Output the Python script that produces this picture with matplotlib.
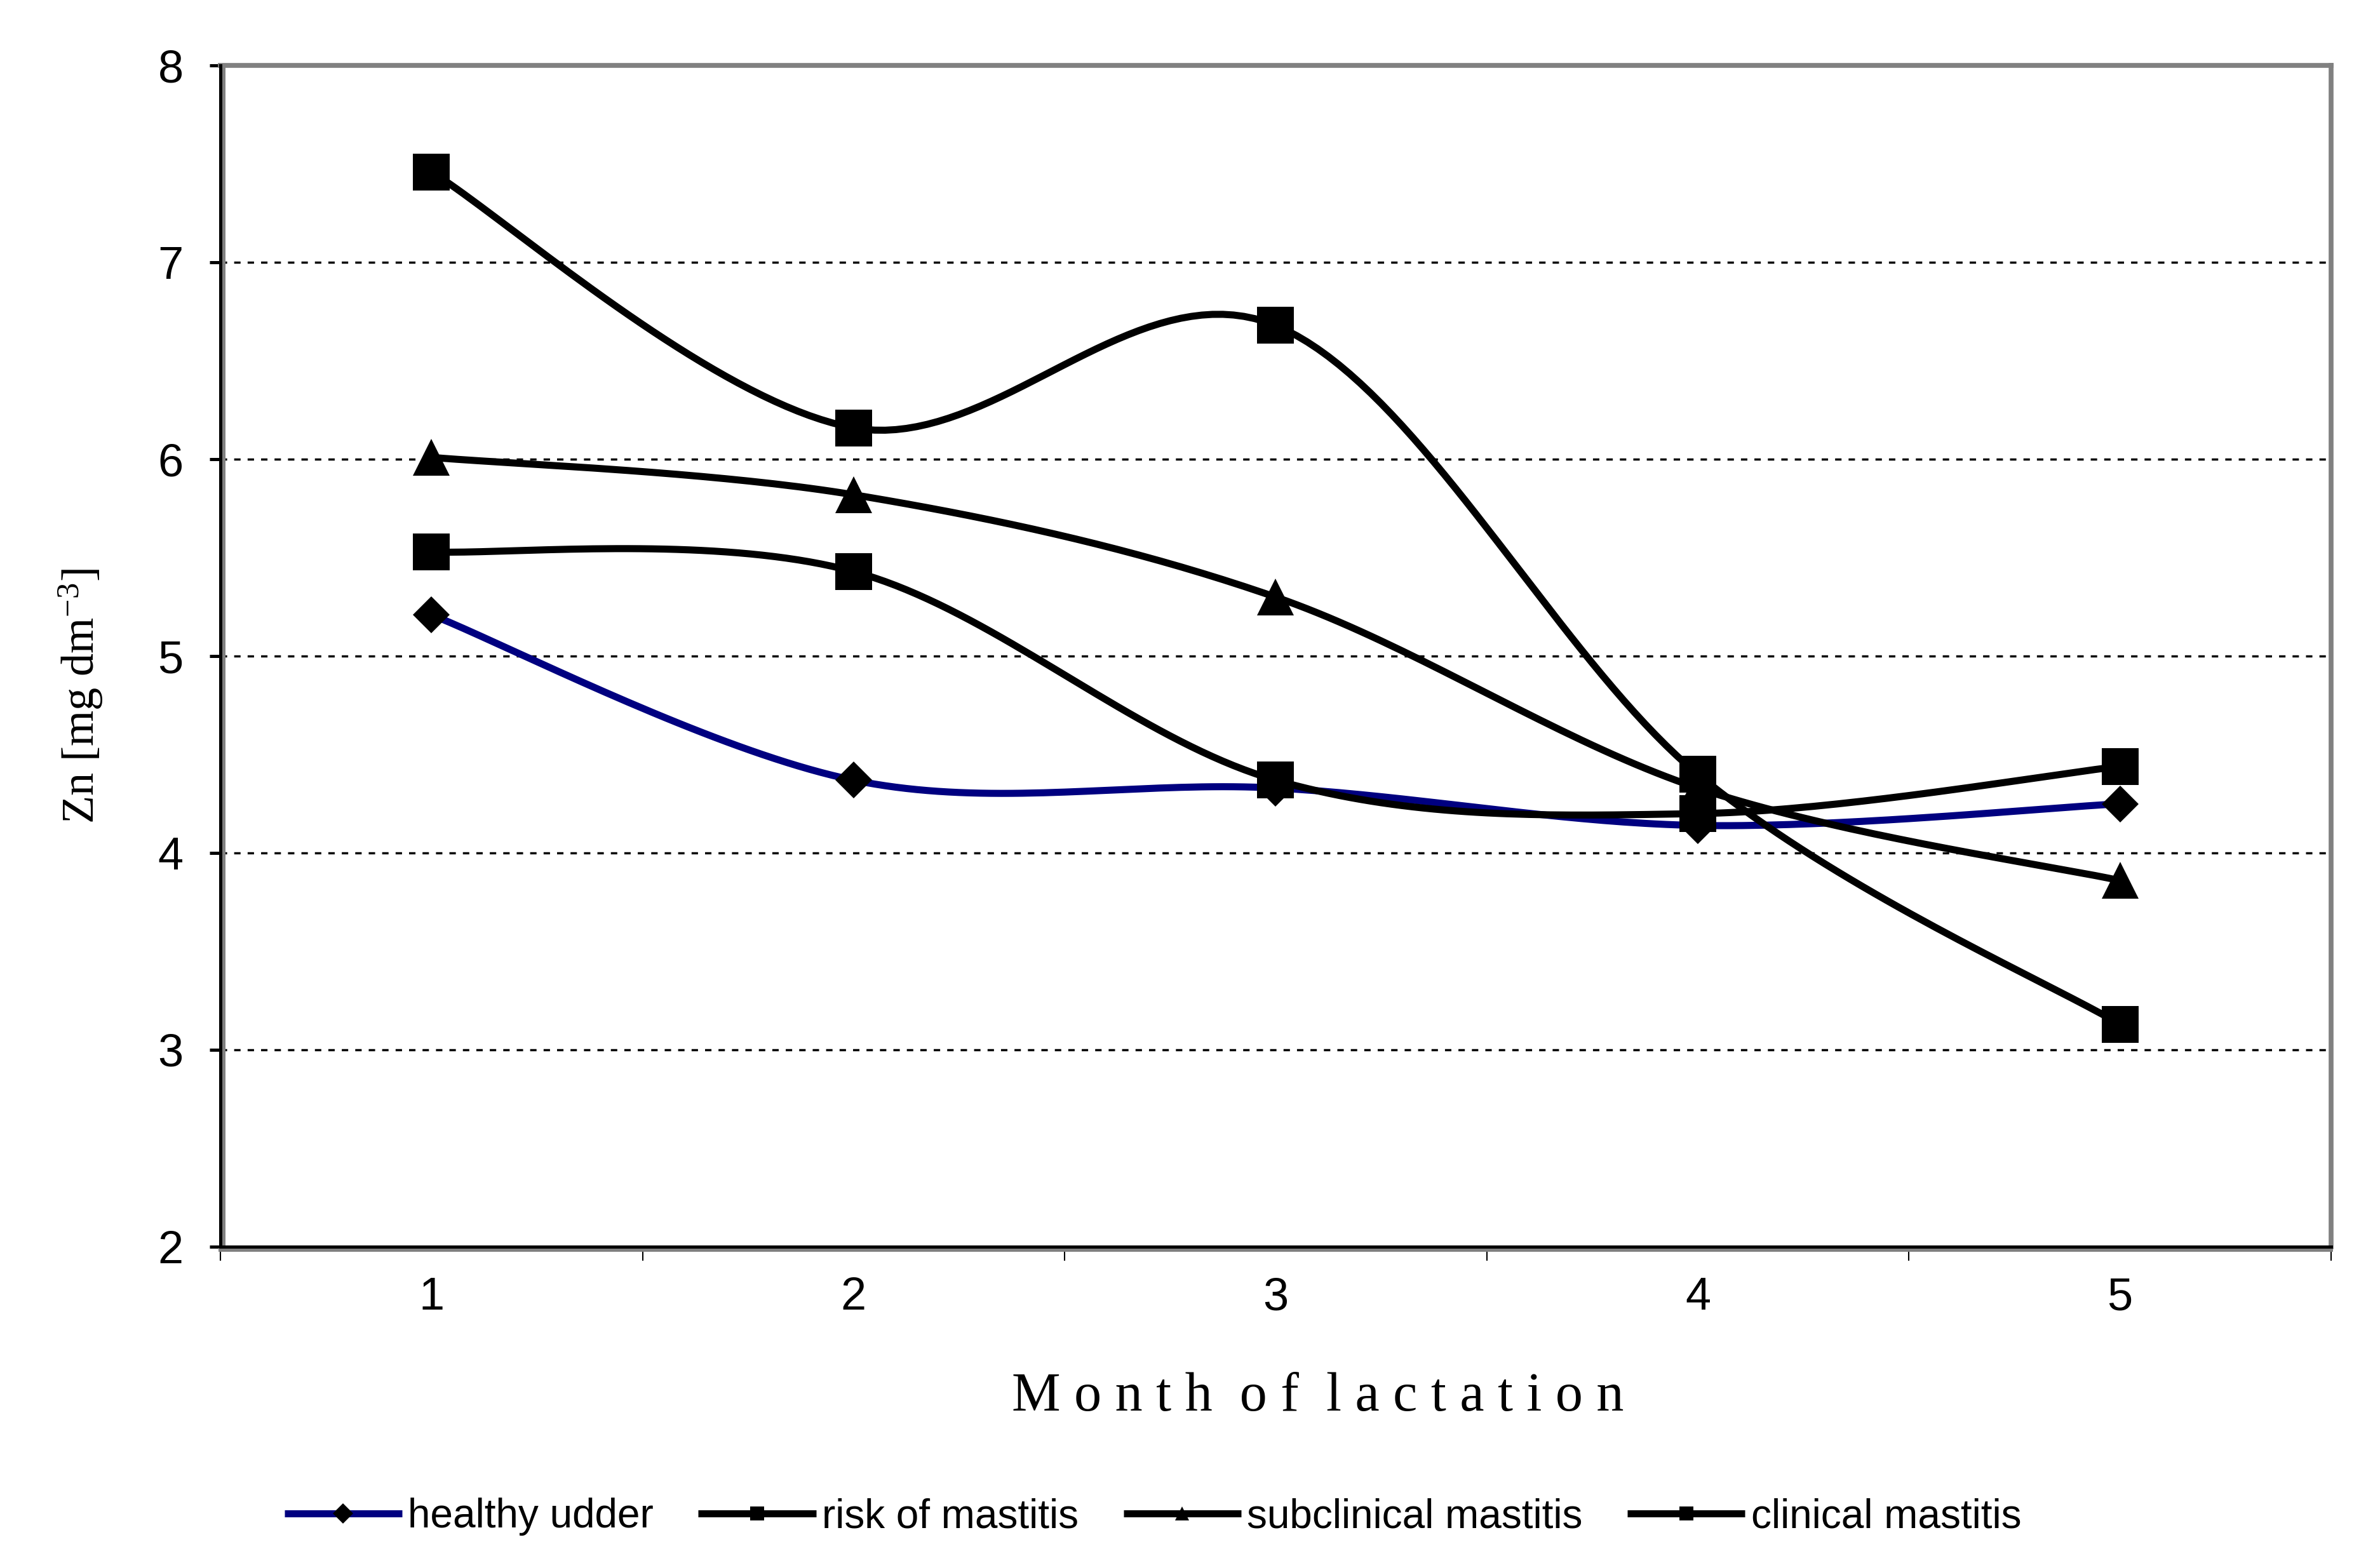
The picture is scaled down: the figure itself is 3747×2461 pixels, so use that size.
import matplotlib
matplotlib.use("Agg")
import matplotlib.pyplot as plt
import matplotlib.transforms as mtransforms
import numpy as np

# data
months = [1, 2, 3, 4, 5]
healthy = [5.21, 4.37, 4.33, 4.14, 4.25]
risk = [5.53, 5.43, 4.37, 4.20, 4.44]
subclinical = [6.01, 5.82, 5.30, 4.33, 3.86]
clinical = [7.46, 6.16, 6.68, 4.40, 3.13]

plt.rcParams["font.family"] = ["Liberation Sans", "DejaVu Sans"]
plt.rcParams["mathtext.fontset"] = "custom"
plt.rcParams["mathtext.rm"] = "Liberation Serif"
plt.rcParams["mathtext.it"] = "Liberation Serif:italic"

N = 40


def smooth(xs, ys, n=N):
    # excel-like smoothed line (bezier through the points)
    pts = np.column_stack([xs, ys]).astype(float)
    last = len(pts) - 1
    out = []
    t = np.linspace(0, 1, n, endpoint=False)[:, None]
    for i in range(last):
        p0 = pts[max(i - 1, 0)]
        p1 = pts[i]
        p2 = pts[i + 1]
        p3 = pts[min(i + 2, last)]
        c1 = p1 + (p2 - p0) / 6.0
        c2 = p2 - (p3 - p1) / 6.0
        seg = ((1 - t) ** 3) * p1 + 3 * ((1 - t) ** 2) * t * c1 + 3 * (1 - t) * t ** 2 * c2 + t ** 3 * p2
        out.append(seg)
    out.append(pts[-1:])
    out = np.vstack(out)
    return out[:, 0], out[:, 1]


fig = plt.figure(figsize=(37.47, 24.61), dpi=100)
ax = fig.add_axes([0.0926, 0.2024, 0.9794 - 0.0926, 0.958 - 0.2024])

every = list(range(0, (len(months) - 1) * N + 1, N))
series = [
    ("healthy udder", healthy, "#000080", "D", 30),
    ("risk of mastitis", risk, "black", "s", 42),
    ("subclinical mastitis", subclinical, "black", "^", 42),
    ("clinical mastitis", clinical, "black", "s", 42),
]
for name, vals, col, mk, ms in series:
    sx, sy = smooth(months, vals)
    ax.plot(sx, sy, color=col, lw=8, marker=mk, markersize=ms, markevery=every,
            markerfacecolor="black", markeredgewidth=0, label=name, zorder=3,
            solid_capstyle="butt")

ax.set_xlim(0.5, 5.5)
ax.set_ylim(2, 8)
ax.set_yticks([2, 3, 4, 5, 6, 7, 8])
ax.set_xticks(months)
ax.set_xticks([0.5, 1.5, 2.5, 3.5, 4.5, 5.5], minor=True)

ax.yaxis.grid(True, color="black", lw=2.5, linestyle=(0, (2.9, 3.2)))
ax.set_axisbelow(True)

ax.tick_params(axis="y", direction="out", length=12, width=3.6, pad=30, labelsize=52, color="black")
ax.tick_params(axis="x", which="major", length=0, pad=34, labelsize=52)
ax.tick_params(axis="x", which="minor", direction="out", length=16, width=1.5, color="black")

# frame: grey top/right, black left/bottom with grey shadow
for side in ["top", "right"]:
    ax.spines[side].set_color("#808080")
    ax.spines[side].set_linewidth(5.5)
for side in ["left", "bottom"]:
    ax.spines[side].set_color("black")
    ax.spines[side].set_linewidth(3.6)
    ax.spines[side].set_zorder(5)

sh_l = ax.transAxes + mtransforms.ScaledTranslation(5.5 / 100, 0, fig.dpi_scale_trans)
ax.plot([0, 0], [0, 1], transform=sh_l, color="#808080", lw=4.3, clip_on=False, zorder=4)
sh_b = ax.transAxes + mtransforms.ScaledTranslation(0, -5.5 / 100, fig.dpi_scale_trans)
ax.plot([0, 1], [0, 0], transform=sh_b, color="#808080", lw=4.3, clip_on=False, zorder=4)

# axis titles
fig.text(2075 / 3747, 1 - 2221 / 2461, "M o n t h  o f  l a c t a t i o n",
         family="Liberation Serif", fontsize=62, ha="center", va="baseline")
fig.text(127 / 3747, 1 - 1096 / 2461, r"Zn [mg dm$^{-3}$]", family="Liberation Serif",
         fontsize=52, rotation=90, ha="center", va="center")

leg = fig.legend(loc="center", bbox_to_anchor=(1815 / 3747, 1 - 2388 / 2461), ncol=4,
                 frameon=False, fontsize=46, handlelength=2.9, handletextpad=0.15,
                 columnspacing=1.1)
for h in leg.legend_handles:
    h.set_markersize(16)

fig.savefig("out.png", dpi=100)
